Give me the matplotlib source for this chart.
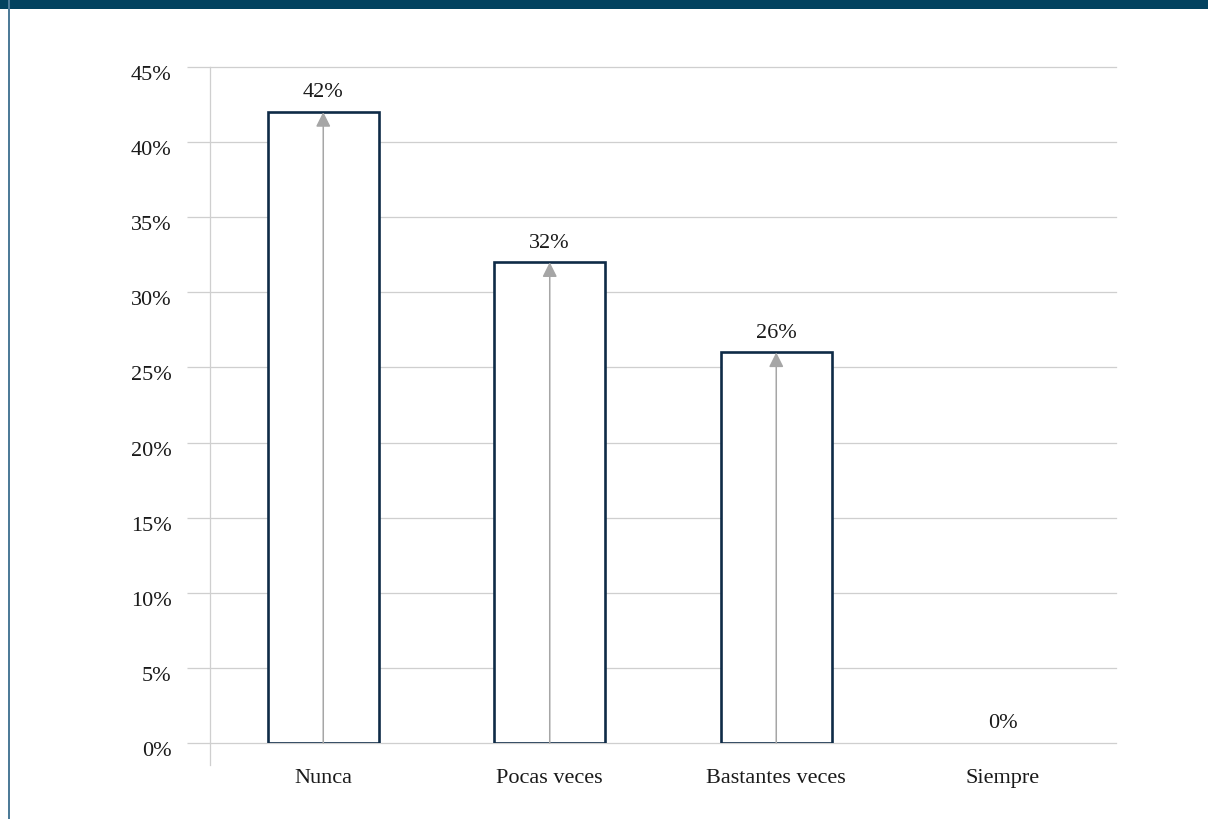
import matplotlib.pyplot as plt
from matplotlib.patches import Rectangle
from matplotlib.transforms import ScaledTranslation

categories = ['Nunca', 'Pocas veces', 'Bastantes veces', 'Siempre']
shares = [42, 32, 26, 0]
ytick_values = [0, 5, 10, 15, 20, 25, 30, 35, 40, 45]

navy = '#0e2b47'
grid_grey = '#cfcfcf'
arrow_grey = '#a6a6a6'
text_col = '#1a1a1a'

plt.rcParams['font.family'] = ['Liberation Serif', 'DejaVu Serif']

fig = plt.figure(figsize=(12.08, 8.19), dpi=100)
ax = fig.add_axes([210 / 1208, 76 / 819, 906 / 1208, 676 / 819])

x = range(len(categories))

# frame decoration: header band and left rule
fig.patches.append(Rectangle((0, 1 - 8.5 / 819), 1, 8.5 / 819, transform=fig.transFigure,
                             facecolor='#03425f', edgecolor='none', zorder=0))
fig.patches.append(Rectangle((8 / 1208, 0), 1.6 / 1208, 1, transform=fig.transFigure,
                             facecolor='#4d7b98', edgecolor='none', zorder=0))

edges = [navy if v > 0 else 'none' for v in shares]
ax.bar(x, shares, width=0.49, facecolor='white', edgecolor=edges, linewidth=1.9, zorder=3)

for xi, v in zip(x, shares):
    if v > 0:
        ax.annotate('', xy=(xi, v), xytext=(xi, 0),
                    arrowprops=dict(arrowstyle='-|>', color=arrow_grey, lw=1.1,
                                    mutation_scale=22, shrinkA=0, shrinkB=0),
                    zorder=4)
    ax.annotate(f'{v}%', xy=(xi, v), xytext=(0, 7), textcoords='offset points',
                ha='center', va='bottom', fontsize=16, color=text_col)

ax.set_xlim(-0.5, len(categories) - 0.5)
ax.set_ylim(0, 45)
ax.set_yticks(ytick_values)
ax.set_yticklabels([f'{v}%' for v in ytick_values])
ax.set_xticks(list(x))
ax.set_xticklabels(categories)

ax.grid(axis='y', color=grid_grey, linewidth=0.9, zorder=0)
ax.set_axisbelow(True)
for gl in ax.get_ygridlines():
    gl.set_clip_on(False)

for side in ['top', 'right', 'bottom']:
    ax.spines[side].set_visible(False)
ax.spines['left'].set_color(grid_grey)
ax.spines['left'].set_linewidth(0.9)

ax.tick_params(axis='y', length=16.5, width=0.9, color=grid_grey, pad=11,
               labelsize=16, labelcolor=text_col)
ax.tick_params(axis='x', length=0, pad=19, labelsize=16, labelcolor=text_col)

# y labels sit slightly below their gridlines
shift = ScaledTranslation(0, -6 / 100, fig.dpi_scale_trans)
for lbl in ax.get_yticklabels():
    lbl.set_transform(lbl.get_transform() + shift)

# left spine runs a little below the baseline
ax.plot([-0.5, -0.5], [0, -1.45], color=grid_grey, linewidth=0.9, clip_on=False)

fig.savefig('out.png', dpi=100, facecolor='white')
